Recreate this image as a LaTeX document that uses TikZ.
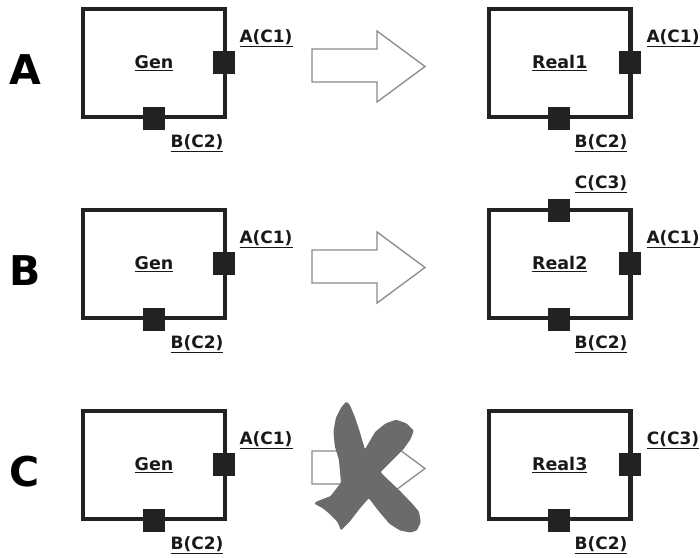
\documentclass[tikz,border=0pt]{standalone}
\usepackage{fontspec}
\setmainfont{DejaVu Sans}
\definecolor{boxc}{HTML}{222222}
\definecolor{arrc}{HTML}{8A8A8A}
\definecolor{crossc}{HTML}{6B6B6B}
\begin{document}
\begin{tikzpicture}[x=1pt,y=-1pt,
  box/.style={draw=boxc, line width=4.3pt, minimum width=141.5pt, minimum height=108.5pt, inner sep=0pt, font=\fontsize{17.5}{19}\selectfont\bfseries, text=black!90},
  port/.style={fill=boxc, minimum width=22pt, minimum height=23pt, inner sep=0pt},
  lbl/.style={font=\fontsize{17}{19}\selectfont\bfseries, text=black!90, inner sep=0pt},
  big/.style={font=\fontsize{41}{44}\selectfont\bfseries, inner sep=0pt},
  bigarrow/.style={draw=arrc, line width=1.3pt, fill=white, line join=miter}]
\useasboundingbox (0,0) rectangle (700,557);

% ---------- Row A ----------
\node[big] (la) at (25,70) {A};
\node[box] (genA) at (154,63) {\underline{Gen}};
\node[port] (genAa) at (224,62.5) {};
\node[port] (genAb) at (153.5,118) {};
\node[lbl] (genAal) at (266,38) {\underline{A(C1)}};
\node[lbl] (genAbl) at (197,143) {\underline{B(C2)}};
\draw[bigarrow] (312,49)--(377,49)--(377,31)--(425,66.5)--(377,102)--(377,82)--(312,82)--cycle;
\node[box] (realA) at (559.75,63) {\underline{Real1}};
\node[port] (realAa) at (629.5,62.5) {};
\node[port] (realAb) at (559,118) {};
\node[lbl] (realAal) at (673,38) {\underline{A(C1)}};
\node[lbl] (realAbl) at (601,143) {\underline{B(C2)}};

% ---------- Row B ----------
\begin{scope}[yshift=-201pt]
\node[big] (lb) at (25,70) {B};
\node[box] (genB) at (154,63) {\underline{Gen}};
\node[port] (genBa) at (224,62.5) {};
\node[port] (genBb) at (153.5,118) {};
\node[lbl] (genBal) at (266,38) {\underline{A(C1)}};
\node[lbl] (genBbl) at (197,143) {\underline{B(C2)}};
\draw[bigarrow] (312,49)--(377,49)--(377,31)--(425,66.5)--(377,102)--(377,82)--(312,82)--cycle;
\node[box] (realB) at (559.75,63) {\underline{Real2}};
\node[port] (realBa) at (629.5,62.5) {};
\node[port] (realBb) at (559,118) {};
\node[port] (realBc) at (559,9.5) {};
\node[lbl] (realBal) at (673,38) {\underline{A(C1)}};
\node[lbl] (realBbl) at (601,143) {\underline{B(C2)}};
\node[lbl] (realBcl) at (601,-17) {\underline{C(C3)}};
\end{scope}

% ---------- Row C ----------
\begin{scope}[yshift=-402pt]
\node[big] (lc) at (25,70) {C};
\node[box] (genC) at (154,63) {\underline{Gen}};
\node[port] (genCa) at (224,62.5) {};
\node[port] (genCb) at (153.5,118) {};
\node[lbl] (genCal) at (266,38) {\underline{A(C1)}};
\node[lbl] (genCbl) at (197,143) {\underline{B(C2)}};
\draw[bigarrow] (312,49)--(377,49)--(377,31)--(425,66.5)--(377,102)--(377,82)--(312,82)--cycle;
\node[box] (realC) at (559.75,63) {\underline{Real3}};
\node[port] (realCa) at (629.5,62.5) {};
\node[port] (realCb) at (559,118) {};
\node[lbl] (realCal) at (673,38) {\underline{C(C3)}};
\node[lbl] (realCbl) at (601,143) {\underline{B(C2)}};
\end{scope}

% cross over the arrow of row C
\begin{scope}[shift={(367,467)}, scale=1.04, shift={(-367,-467)}]
\fill[crossc, rounded corners=1.2pt]
 (347,404) -- (350.3,407) -- (355,418) -- (360,433) -- (365,450)
 -- (375,433) -- (385,425) -- (395,421.5) -- (405,425) -- (412,432)
 -- (409,440) -- (402,450) -- (392,460) -- (380,472)
 -- (385,477) -- (398.7,490) -- (410,501.7) -- (417,510) -- (418.7,520)
 -- (415,528) -- (408.7,530) -- (398.7,528) -- (388.7,521.7) -- (378.7,510)
 -- (368.7,497) -- (360,507) -- (350,520) -- (342,528) -- (338.7,520)
 -- (332,513) -- (325,507) -- (316,502) -- (320,499.5) -- (332,495)
 -- (342,482) -- (340,460) -- (336,447) -- (334.7,433) -- (337,420)
 -- (342,410) -- cycle;
\end{scope}
\end{tikzpicture}
\end{document}
